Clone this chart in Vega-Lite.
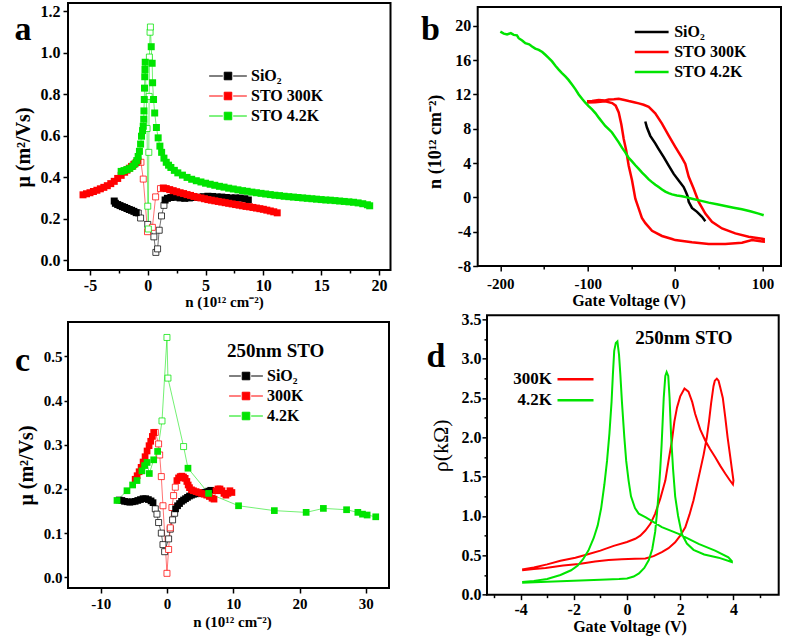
{
"$schema": "https://vega.github.io/schema/vega-lite/v6.json",
"background": "white",
"padding": {"left": 12, "top": 2, "right": 5, "bottom": 5},
"config": {
  "font": "Liberation Serif",
  "view": {"stroke": "#000000", "strokeWidth": 2},
  "axis": {"grid": false, "domain": false, "tickColor": "#000000", "tickWidth": 1.5, "tickSize": 5, "labelOverlap": false, "tickCount": 40,
    "labelFont": "Liberation Serif", "labelFontWeight": "bold", "labelFontSize": 15, "labelColor": "#000000", "labelPadding": 3,
    "titleFont": "Liberation Serif", "titleFontWeight": "bold", "titleColor": "#000000", "titleAlign": "center", "titleBaseline": "middle"},
  "legend": {"labelFont": "Liberation Serif", "labelFontWeight": "bold", "labelColor": "#000000", "padding": 0, "symbolOpacity": 1}
},
"datasets": {
"a": [
{"s":"SiO₂","t":"f","n":-2.9,"mu":0.285},{"s":"SiO₂","t":"f","n":-2.8,"mu":0.274},{"s":"SiO₂","t":"f","n":-2.6,"mu":0.268},{"s":"SiO₂","t":"f","n":-2.4,"mu":0.263},{"s":"SiO₂","t":"f","n":-2.2,"mu":0.258},{"s":"SiO₂","t":"f","n":-2.0,"mu":0.254},{"s":"SiO₂","t":"f","n":-1.8,"mu":0.249},{"s":"SiO₂","t":"f","n":-1.6,"mu":0.244},{"s":"SiO₂","t":"f","n":-1.4,"mu":0.24},{"s":"SiO₂","t":"f","n":-1.2,"mu":0.235},{"s":"SiO₂","t":"f","n":-1.0,"mu":0.229},
{"s":"SiO₂","t":"o","n":-0.82,"mu":0.227},{"s":"SiO₂","t":"o","n":-0.62,"mu":0.203},{"s":"SiO₂","t":"o","n":0.0,"mu":0.172},{"s":"SiO₂","t":"o","n":0.53,"mu":0.112},{"s":"SiO₂","t":"o","n":0.7,"mu":0.037},{"s":"SiO₂","t":"o","n":0.85,"mu":0.054},{"s":"SiO₂","t":"o","n":0.99,"mu":0.144},{"s":"SiO₂","t":"o","n":1.19,"mu":0.213},{"s":"SiO₂","t":"o","n":1.4,"mu":0.264},
{"s":"SiO₂","t":"f","n":1.5,"mu":0.29},{"s":"SiO₂","t":"f","n":1.7,"mu":0.298},{"s":"SiO₂","t":"f","n":2.0,"mu":0.302},{"s":"SiO₂","t":"f","n":2.4,"mu":0.303},{"s":"SiO₂","t":"f","n":2.8,"mu":0.3},{"s":"SiO₂","t":"f","n":3.2,"mu":0.298},{"s":"SiO₂","t":"f","n":3.6,"mu":0.3},{"s":"SiO₂","t":"f","n":4.0,"mu":0.302},{"s":"SiO₂","t":"f","n":4.4,"mu":0.303},{"s":"SiO₂","t":"f","n":4.8,"mu":0.306},{"s":"SiO₂","t":"f","n":5.2,"mu":0.308},{"s":"SiO₂","t":"f","n":5.6,"mu":0.307},{"s":"SiO₂","t":"f","n":6.0,"mu":0.305},{"s":"SiO₂","t":"f","n":6.4,"mu":0.304},{"s":"SiO₂","t":"f","n":6.8,"mu":0.302},{"s":"SiO₂","t":"f","n":7.2,"mu":0.3},{"s":"SiO₂","t":"f","n":7.6,"mu":0.3},{"s":"SiO₂","t":"f","n":8.0,"mu":0.299},{"s":"SiO₂","t":"f","n":8.4,"mu":0.296},{"s":"SiO₂","t":"f","n":8.7,"mu":0.29},
{"s":"STO 300K","t":"f","n":-5.6,"mu":0.315},{"s":"STO 300K","t":"f","n":-5.3,"mu":0.32},{"s":"STO 300K","t":"f","n":-5.0,"mu":0.325},{"s":"STO 300K","t":"f","n":-4.7,"mu":0.331},{"s":"STO 300K","t":"f","n":-4.4,"mu":0.337},{"s":"STO 300K","t":"f","n":-4.1,"mu":0.344},{"s":"STO 300K","t":"f","n":-3.8,"mu":0.351},{"s":"STO 300K","t":"f","n":-3.5,"mu":0.359},{"s":"STO 300K","t":"f","n":-3.2,"mu":0.369},{"s":"STO 300K","t":"f","n":-2.9,"mu":0.38},{"s":"STO 300K","t":"f","n":-2.6,"mu":0.394},{"s":"STO 300K","t":"f","n":-2.3,"mu":0.409},{"s":"STO 300K","t":"f","n":-2.0,"mu":0.424},{"s":"STO 300K","t":"f","n":-1.8,"mu":0.434},{"s":"STO 300K","t":"f","n":-1.6,"mu":0.443},{"s":"STO 300K","t":"f","n":-1.4,"mu":0.452},{"s":"STO 300K","t":"f","n":-1.2,"mu":0.462},{"s":"STO 300K","t":"f","n":-1.0,"mu":0.471},{"s":"STO 300K","t":"f","n":-0.85,"mu":0.478},
{"s":"STO 300K","t":"o","n":-0.59,"mu":0.472},{"s":"STO 300K","t":"o","n":-0.39,"mu":0.391},{"s":"STO 300K","t":"o","n":-0.02,"mu":0.137},{"s":"STO 300K","t":"o","n":0.4,"mu":0.158},{"s":"STO 300K","t":"o","n":0.68,"mu":0.305},{"s":"STO 300K","t":"o","n":1.1,"mu":0.345},
{"s":"STO 300K","t":"f","n":1.35,"mu":0.348},{"s":"STO 300K","t":"f","n":1.6,"mu":0.345},{"s":"STO 300K","t":"f","n":1.9,"mu":0.34},{"s":"STO 300K","t":"f","n":2.2,"mu":0.335},{"s":"STO 300K","t":"f","n":2.5,"mu":0.33},{"s":"STO 300K","t":"f","n":2.8,"mu":0.325},{"s":"STO 300K","t":"f","n":3.1,"mu":0.321},{"s":"STO 300K","t":"f","n":3.4,"mu":0.316},{"s":"STO 300K","t":"f","n":3.7,"mu":0.312},{"s":"STO 300K","t":"f","n":4.0,"mu":0.307},{"s":"STO 300K","t":"f","n":4.3,"mu":0.303},{"s":"STO 300K","t":"f","n":4.6,"mu":0.3},{"s":"STO 300K","t":"f","n":4.9,"mu":0.296},{"s":"STO 300K","t":"f","n":5.2,"mu":0.292},{"s":"STO 300K","t":"f","n":5.5,"mu":0.289},{"s":"STO 300K","t":"f","n":5.8,"mu":0.286},{"s":"STO 300K","t":"f","n":6.1,"mu":0.283},{"s":"STO 300K","t":"f","n":6.4,"mu":0.28},{"s":"STO 300K","t":"f","n":6.7,"mu":0.277},{"s":"STO 300K","t":"f","n":7.0,"mu":0.274},{"s":"STO 300K","t":"f","n":7.3,"mu":0.271},{"s":"STO 300K","t":"f","n":7.6,"mu":0.268},{"s":"STO 300K","t":"f","n":7.9,"mu":0.265},{"s":"STO 300K","t":"f","n":8.2,"mu":0.262},{"s":"STO 300K","t":"f","n":8.5,"mu":0.259},{"s":"STO 300K","t":"f","n":8.8,"mu":0.257},{"s":"STO 300K","t":"f","n":9.1,"mu":0.254},{"s":"STO 300K","t":"f","n":9.4,"mu":0.251},{"s":"STO 300K","t":"f","n":9.7,"mu":0.248},{"s":"STO 300K","t":"f","n":10.0,"mu":0.245},{"s":"STO 300K","t":"f","n":10.3,"mu":0.241},{"s":"STO 300K","t":"f","n":10.6,"mu":0.237},{"s":"STO 300K","t":"f","n":10.9,"mu":0.233},{"s":"STO 300K","t":"f","n":11.2,"mu":0.228},
{"s":"STO 4.2K","t":"f","n":-2.3,"mu":0.428},{"s":"STO 4.2K","t":"f","n":-2.05,"mu":0.432},{"s":"STO 4.2K","t":"f","n":-1.8,"mu":0.437},{"s":"STO 4.2K","t":"f","n":-1.55,"mu":0.443},{"s":"STO 4.2K","t":"f","n":-1.3,"mu":0.453},{"s":"STO 4.2K","t":"f","n":-1.1,"mu":0.465},{"s":"STO 4.2K","t":"f","n":-0.95,"mu":0.48},{"s":"STO 4.2K","t":"f","n":-0.83,"mu":0.5},{"s":"STO 4.2K","t":"f","n":-0.72,"mu":0.525},{"s":"STO 4.2K","t":"f","n":-0.62,"mu":0.56},{"s":"STO 4.2K","t":"f","n":-0.54,"mu":0.598},{"s":"STO 4.2K","t":"f","n":-0.45,"mu":0.625},{"s":"STO 4.2K","t":"f","n":-0.39,"mu":0.646},{"s":"STO 4.2K","t":"f","n":-0.35,"mu":0.68},{"s":"STO 4.2K","t":"f","n":-0.33,"mu":0.72},{"s":"STO 4.2K","t":"f","n":-0.3,"mu":0.775},{"s":"STO 4.2K","t":"f","n":-0.28,"mu":0.83},{"s":"STO 4.2K","t":"f","n":-0.26,"mu":0.885},{"s":"STO 4.2K","t":"f","n":-0.24,"mu":0.92},{"s":"STO 4.2K","t":"f","n":-0.22,"mu":0.955},
{"s":"STO 4.2K","t":"o","n":-0.06,"mu":0.635},{"s":"STO 4.2K","t":"o","n":0.0,"mu":0.26},{"s":"STO 4.2K","t":"o","n":0.05,"mu":0.15},{"s":"STO 4.2K","t":"o","n":0.09,"mu":0.52},{"s":"STO 4.2K","t":"o","n":0.12,"mu":0.79},{"s":"STO 4.2K","t":"o","n":0.14,"mu":0.98},{"s":"STO 4.2K","t":"o","n":0.2,"mu":1.1},{"s":"STO 4.2K","t":"o","n":0.23,"mu":1.125},
{"s":"STO 4.2K","t":"f","n":0.3,"mu":1.03},{"s":"STO 4.2K","t":"f","n":0.38,"mu":0.95},{"s":"STO 4.2K","t":"f","n":0.42,"mu":0.856},{"s":"STO 4.2K","t":"f","n":0.5,"mu":0.775},{"s":"STO 4.2K","t":"f","n":0.6,"mu":0.71},{"s":"STO 4.2K","t":"f","n":0.75,"mu":0.64},{"s":"STO 4.2K","t":"f","n":0.9,"mu":0.59},{"s":"STO 4.2K","t":"f","n":1.05,"mu":0.55},{"s":"STO 4.2K","t":"f","n":1.2,"mu":0.52},{"s":"STO 4.2K","t":"f","n":1.4,"mu":0.492},{"s":"STO 4.2K","t":"f","n":1.6,"mu":0.472},{"s":"STO 4.2K","t":"f","n":1.8,"mu":0.458},{"s":"STO 4.2K","t":"f","n":2.0,"mu":0.447},{"s":"STO 4.2K","t":"f","n":2.3,"mu":0.433},{"s":"STO 4.2K","t":"f","n":2.6,"mu":0.421},{"s":"STO 4.2K","t":"f","n":3.0,"mu":0.41},{"s":"STO 4.2K","t":"f","n":3.4,"mu":0.399},{"s":"STO 4.2K","t":"f","n":3.8,"mu":0.39},{"s":"STO 4.2K","t":"f","n":4.2,"mu":0.383},{"s":"STO 4.2K","t":"f","n":4.6,"mu":0.377},{"s":"STO 4.2K","t":"f","n":5.0,"mu":0.371},{"s":"STO 4.2K","t":"f","n":5.4,"mu":0.366},{"s":"STO 4.2K","t":"f","n":5.8,"mu":0.361},{"s":"STO 4.2K","t":"f","n":6.2,"mu":0.356},{"s":"STO 4.2K","t":"f","n":6.6,"mu":0.352},{"s":"STO 4.2K","t":"f","n":7.0,"mu":0.347},{"s":"STO 4.2K","t":"f","n":7.4,"mu":0.343},{"s":"STO 4.2K","t":"f","n":7.8,"mu":0.339},{"s":"STO 4.2K","t":"f","n":8.2,"mu":0.335},{"s":"STO 4.2K","t":"f","n":8.6,"mu":0.332},{"s":"STO 4.2K","t":"f","n":9.0,"mu":0.328},{"s":"STO 4.2K","t":"f","n":9.4,"mu":0.325},{"s":"STO 4.2K","t":"f","n":9.8,"mu":0.322},{"s":"STO 4.2K","t":"f","n":10.2,"mu":0.319},{"s":"STO 4.2K","t":"f","n":10.6,"mu":0.316},{"s":"STO 4.2K","t":"f","n":11.0,"mu":0.313},{"s":"STO 4.2K","t":"f","n":11.4,"mu":0.311},{"s":"STO 4.2K","t":"f","n":11.8,"mu":0.308},{"s":"STO 4.2K","t":"f","n":12.2,"mu":0.306},{"s":"STO 4.2K","t":"f","n":12.6,"mu":0.304},{"s":"STO 4.2K","t":"f","n":13.0,"mu":0.302},{"s":"STO 4.2K","t":"f","n":13.4,"mu":0.3},{"s":"STO 4.2K","t":"f","n":13.8,"mu":0.298},{"s":"STO 4.2K","t":"f","n":14.2,"mu":0.296},{"s":"STO 4.2K","t":"f","n":14.6,"mu":0.294},{"s":"STO 4.2K","t":"f","n":15.0,"mu":0.292},{"s":"STO 4.2K","t":"f","n":15.4,"mu":0.29},{"s":"STO 4.2K","t":"f","n":15.8,"mu":0.289},{"s":"STO 4.2K","t":"f","n":16.2,"mu":0.287},{"s":"STO 4.2K","t":"f","n":16.6,"mu":0.285},{"s":"STO 4.2K","t":"f","n":17.0,"mu":0.283},{"s":"STO 4.2K","t":"f","n":17.4,"mu":0.281},{"s":"STO 4.2K","t":"f","n":17.8,"mu":0.279},{"s":"STO 4.2K","t":"f","n":18.2,"mu":0.276},{"s":"STO 4.2K","t":"f","n":18.6,"mu":0.272},{"s":"STO 4.2K","t":"f","n":19.0,"mu":0.267},{"s":"STO 4.2K","t":"f","n":19.2,"mu":0.262}
],
"b": [
{"s":"SiO₂","v":-34.1,"n":8.85},{"s":"SiO₂","v":-32.2,"n":8.15},{"s":"SiO₂","v":-28.4,"n":7.18},{"s":"SiO₂","v":-22.7,"n":6.3},{"s":"SiO₂","v":-18.8,"n":5.64},{"s":"SiO₂","v":-13,"n":4.7},{"s":"SiO₂","v":-7.3,"n":3.7},{"s":"SiO₂","v":-1.6,"n":2.74},{"s":"SiO₂","v":4.1,"n":1.97},{"s":"SiO₂","v":9.8,"n":1.2},{"s":"SiO₂","v":12.5,"n":0.6},{"s":"SiO₂","v":14.5,"n":0.1},{"s":"SiO₂","v":15.6,"n":-0.53},{"s":"SiO₂","v":19.3,"n":-1.23},{"s":"SiO₂","v":25.1,"n":-1.69},{"s":"SiO₂","v":30.8,"n":-2.27},{"s":"SiO₂","v":34.6,"n":-2.78},
{"s":"STO 300K","v":-100.8,"n":11.2},{"s":"STO 300K","v":-95,"n":11.23},{"s":"STO 300K","v":-87.4,"n":11.35},{"s":"STO 300K","v":-80,"n":11.3},{"s":"STO 300K","v":-76,"n":11.42},{"s":"STO 300K","v":-70,"n":11.45},{"s":"STO 300K","v":-64.5,"n":11.5},{"s":"STO 300K","v":-58,"n":11.35},{"s":"STO 300K","v":-53.1,"n":11.23},{"s":"STO 300K","v":-47,"n":11.1},{"s":"STO 300K","v":-41.6,"n":10.96},{"s":"STO 300K","v":-36,"n":10.8},{"s":"STO 300K","v":-30.2,"n":10.55},{"s":"STO 300K","v":-22.7,"n":9.8},{"s":"STO 300K","v":-15,"n":8.6},{"s":"STO 300K","v":-7.3,"n":7.2},{"s":"STO 300K","v":0.2,"n":5.9},{"s":"STO 300K","v":7.9,"n":4.6},{"s":"STO 300K","v":11.7,"n":3.9},{"s":"STO 300K","v":15.6,"n":2.4},{"s":"STO 300K","v":21.3,"n":1.0},{"s":"STO 300K","v":27,"n":-0.53},{"s":"STO 300K","v":34.6,"n":-1.89},{"s":"STO 300K","v":42.2,"n":-2.85},{"s":"STO 300K","v":53.7,"n":-3.62},{"s":"STO 300K","v":68.9,"n":-4.2},{"s":"STO 300K","v":84.2,"n":-4.59},{"s":"STO 300K","v":101.4,"n":-4.86},
{"s":"STO 300K","v":101.4,"n":-5.16},{"s":"STO 300K","v":88,"n":-4.98},{"s":"STO 300K","v":76.5,"n":-5.28},{"s":"STO 300K","v":57.4,"n":-5.44},{"s":"STO 300K","v":38.4,"n":-5.44},{"s":"STO 300K","v":19.3,"n":-5.24},{"s":"STO 300K","v":0.2,"n":-4.98},{"s":"STO 300K","v":-3.5,"n":-4.85},{"s":"STO 300K","v":-15,"n":-4.5},{"s":"STO 300K","v":-26.4,"n":-3.9},{"s":"STO 300K","v":-34,"n":-3.0},{"s":"STO 300K","v":-38,"n":-2.4},{"s":"STO 300K","v":-42,"n":-1.2},{"s":"STO 300K","v":-45.5,"n":-0.15},{"s":"STO 300K","v":-49.3,"n":2.0},{"s":"STO 300K","v":-53.1,"n":3.7},{"s":"STO 300K","v":-56,"n":5.5},{"s":"STO 300K","v":-58.8,"n":6.8},{"s":"STO 300K","v":-61.5,"n":8.5},{"s":"STO 300K","v":-64.5,"n":9.9},{"s":"STO 300K","v":-68,"n":10.7},{"s":"STO 300K","v":-72,"n":11.0},{"s":"STO 300K","v":-79.9,"n":11.2},{"s":"STO 300K","v":-91.3,"n":11.1},{"s":"STO 300K","v":-100.8,"n":11.05},
{"s":"STO 4.2K","v":-200,"n":19.33},{"s":"STO 4.2K","v":-196,"n":19.1},{"s":"STO 4.2K","v":-192.3,"n":19.0},{"s":"STO 4.2K","v":-188,"n":19.15},{"s":"STO 4.2K","v":-184.7,"n":18.95},{"s":"STO 4.2K","v":-181,"n":18.9},{"s":"STO 4.2K","v":-179,"n":18.56},{"s":"STO 4.2K","v":-175,"n":18.3},{"s":"STO 4.2K","v":-171.4,"n":17.98},{"s":"STO 4.2K","v":-167,"n":17.85},{"s":"STO 4.2K","v":-163.7,"n":17.6},{"s":"STO 4.2K","v":-160,"n":17.35},{"s":"STO 4.2K","v":-156,"n":17.2},{"s":"STO 4.2K","v":-152,"n":16.95},{"s":"STO 4.2K","v":-148.5,"n":16.63},{"s":"STO 4.2K","v":-144.5,"n":16.25},{"s":"STO 4.2K","v":-140.8,"n":15.86},{"s":"STO 4.2K","v":-137,"n":15.35},{"s":"STO 4.2K","v":-133.2,"n":14.9},{"s":"STO 4.2K","v":-129.5,"n":14.5},{"s":"STO 4.2K","v":-125.6,"n":14.1},{"s":"STO 4.2K","v":-122,"n":13.7},{"s":"STO 4.2K","v":-118,"n":13.16},{"s":"STO 4.2K","v":-114,"n":12.6},{"s":"STO 4.2K","v":-110.3,"n":12.0},{"s":"STO 4.2K","v":-106.5,"n":11.5},{"s":"STO 4.2K","v":-102.7,"n":11.04},{"s":"STO 4.2K","v":-99,"n":10.65},{"s":"STO 4.2K","v":-95,"n":10.27},{"s":"STO 4.2K","v":-91,"n":9.8},{"s":"STO 4.2K","v":-87.4,"n":9.3},{"s":"STO 4.2K","v":-83.5,"n":8.8},{"s":"STO 4.2K","v":-79.9,"n":8.33},{"s":"STO 4.2K","v":-76,"n":7.95},{"s":"STO 4.2K","v":-72.2,"n":7.57},{"s":"STO 4.2K","v":-68.4,"n":7.0},{"s":"STO 4.2K","v":-64.5,"n":6.41},{"s":"STO 4.2K","v":-60.8,"n":5.8},{"s":"STO 4.2K","v":-57,"n":5.25},{"s":"STO 4.2K","v":-53.1,"n":4.6},{"s":"STO 4.2K","v":-49.3,"n":4.2},{"s":"STO 4.2K","v":-45.5,"n":3.75},{"s":"STO 4.2K","v":-41.6,"n":3.32},{"s":"STO 4.2K","v":-37.8,"n":2.88},{"s":"STO 4.2K","v":-34,"n":2.5},{"s":"STO 4.2K","v":-30.2,"n":2.1},{"s":"STO 4.2K","v":-26.4,"n":1.78},{"s":"STO 4.2K","v":-22.6,"n":1.48},{"s":"STO 4.2K","v":-18.8,"n":1.2},{"s":"STO 4.2K","v":-15,"n":0.93},{"s":"STO 4.2K","v":-11.2,"n":0.67},{"s":"STO 4.2K","v":-7.4,"n":0.5},{"s":"STO 4.2K","v":-3.5,"n":0.35},{"s":"STO 4.2K","v":2,"n":0.22},{"s":"STO 4.2K","v":7.9,"n":0.13},{"s":"STO 4.2K","v":13.6,"n":0.0},{"s":"STO 4.2K","v":19.3,"n":-0.15},{"s":"STO 4.2K","v":28.8,"n":-0.38},{"s":"STO 4.2K","v":38.4,"n":-0.61},{"s":"STO 4.2K","v":47.9,"n":-0.8},{"s":"STO 4.2K","v":57.4,"n":-1.0},{"s":"STO 4.2K","v":67,"n":-1.2},{"s":"STO 4.2K","v":76.5,"n":-1.39},{"s":"STO 4.2K","v":86,"n":-1.62},{"s":"STO 4.2K","v":95.6,"n":-1.89},{"s":"STO 4.2K","v":101.4,"n":-2.08}
],
"c": [
{"s":"SiO₂","t":"f","n":-7.2,"mu":0.175},{"s":"SiO₂","t":"f","n":-6.8,"mu":0.174},{"s":"SiO₂","t":"f","n":-6.4,"mu":0.172},{"s":"SiO₂","t":"f","n":-6.0,"mu":0.171},{"s":"SiO₂","t":"f","n":-5.6,"mu":0.17},{"s":"SiO₂","t":"f","n":-5.2,"mu":0.171},{"s":"SiO₂","t":"f","n":-4.8,"mu":0.172},{"s":"SiO₂","t":"f","n":-4.4,"mu":0.174},{"s":"SiO₂","t":"f","n":-4.0,"mu":0.176},{"s":"SiO₂","t":"f","n":-3.6,"mu":0.178},{"s":"SiO₂","t":"f","n":-3.2,"mu":0.178},{"s":"SiO₂","t":"f","n":-2.8,"mu":0.176},{"s":"SiO₂","t":"f","n":-2.4,"mu":0.173},{"s":"SiO₂","t":"f","n":-2.1,"mu":0.169},
{"s":"SiO₂","t":"o","n":-1.76,"mu":0.155},{"s":"SiO₂","t":"o","n":-1.51,"mu":0.143},{"s":"SiO₂","t":"o","n":-1.26,"mu":0.124},{"s":"SiO₂","t":"o","n":-0.85,"mu":0.1},{"s":"SiO₂","t":"o","n":-0.6,"mu":0.074},{"s":"SiO₂","t":"o","n":-0.35,"mu":0.058},{"s":"SiO₂","t":"o","n":0.25,"mu":0.087},{"s":"SiO₂","t":"o","n":0.5,"mu":0.109},{"s":"SiO₂","t":"o","n":0.85,"mu":0.13},{"s":"SiO₂","t":"o","n":1.16,"mu":0.145},
{"s":"SiO₂","t":"f","n":1.3,"mu":0.155},{"s":"SiO₂","t":"f","n":1.6,"mu":0.162},{"s":"SiO₂","t":"f","n":1.9,"mu":0.167},{"s":"SiO₂","t":"f","n":2.2,"mu":0.172},{"s":"SiO₂","t":"f","n":2.5,"mu":0.175},{"s":"SiO₂","t":"f","n":2.8,"mu":0.178},{"s":"SiO₂","t":"f","n":3.1,"mu":0.181},{"s":"SiO₂","t":"f","n":3.4,"mu":0.184},{"s":"SiO₂","t":"f","n":3.7,"mu":0.186},{"s":"SiO₂","t":"f","n":4.0,"mu":0.188},{"s":"SiO₂","t":"f","n":4.4,"mu":0.189},{"s":"SiO₂","t":"f","n":4.8,"mu":0.19},{"s":"SiO₂","t":"f","n":5.2,"mu":0.191},{"s":"SiO₂","t":"f","n":5.6,"mu":0.192},{"s":"SiO₂","t":"f","n":6.0,"mu":0.193},{"s":"SiO₂","t":"f","n":6.3,"mu":0.195},{"s":"SiO₂","t":"f","n":6.6,"mu":0.197},
{"s":"300K","t":"f","n":-4.8,"mu":0.222},{"s":"300K","t":"f","n":-4.5,"mu":0.23},{"s":"300K","t":"f","n":-4.2,"mu":0.239},{"s":"300K","t":"f","n":-3.9,"mu":0.249},{"s":"300K","t":"f","n":-3.6,"mu":0.261},{"s":"300K","t":"f","n":-3.3,"mu":0.273},{"s":"300K","t":"f","n":-3.0,"mu":0.286},{"s":"300K","t":"f","n":-2.7,"mu":0.298},{"s":"300K","t":"f","n":-2.45,"mu":0.308},{"s":"300K","t":"f","n":-2.2,"mu":0.319},{"s":"300K","t":"f","n":-2.0,"mu":0.328},
{"s":"300K","t":"o","n":-1.76,"mu":0.328},{"s":"300K","t":"o","n":-1.26,"mu":0.302},{"s":"300K","t":"o","n":-1.1,"mu":0.277},{"s":"300K","t":"o","n":-0.85,"mu":0.228},{"s":"300K","t":"o","n":-0.6,"mu":0.162},{"s":"300K","t":"o","n":0.0,"mu":0.009},{"s":"300K","t":"o","n":0.25,"mu":0.063},{"s":"300K","t":"o","n":0.5,"mu":0.112},{"s":"300K","t":"o","n":0.75,"mu":0.158},{"s":"300K","t":"o","n":1.0,"mu":0.185},{"s":"300K","t":"o","n":1.26,"mu":0.204},
{"s":"300K","t":"f","n":1.5,"mu":0.219},{"s":"300K","t":"f","n":1.75,"mu":0.225},{"s":"300K","t":"f","n":2.0,"mu":0.228},{"s":"300K","t":"f","n":2.25,"mu":0.229},{"s":"300K","t":"f","n":2.5,"mu":0.227},{"s":"300K","t":"f","n":2.75,"mu":0.224},{"s":"300K","t":"f","n":3.0,"mu":0.217},{"s":"300K","t":"f","n":3.2,"mu":0.209},{"s":"300K","t":"f","n":3.4,"mu":0.203},{"s":"300K","t":"f","n":3.7,"mu":0.198},{"s":"300K","t":"f","n":4.0,"mu":0.196},{"s":"300K","t":"f","n":4.4,"mu":0.194},{"s":"300K","t":"f","n":4.8,"mu":0.192},{"s":"300K","t":"f","n":5.2,"mu":0.19},{"s":"300K","t":"f","n":5.6,"mu":0.188},{"s":"300K","t":"f","n":6.0,"mu":0.186},{"s":"300K","t":"f","n":6.4,"mu":0.183},{"s":"300K","t":"f","n":6.8,"mu":0.179},{"s":"300K","t":"f","n":7.1,"mu":0.177},{"s":"300K","t":"f","n":7.4,"mu":0.196},{"s":"300K","t":"f","n":7.7,"mu":0.2},{"s":"300K","t":"f","n":8.0,"mu":0.2},{"s":"300K","t":"f","n":8.3,"mu":0.196},{"s":"300K","t":"f","n":8.6,"mu":0.19},{"s":"300K","t":"f","n":8.9,"mu":0.186},{"s":"300K","t":"f","n":9.2,"mu":0.19},{"s":"300K","t":"f","n":9.5,"mu":0.196},{"s":"300K","t":"f","n":9.8,"mu":0.192},
{"s":"4.2K","t":"f","n":-7.54,"mu":0.174},{"s":"4.2K","t":"f","n":-6.03,"mu":0.196},{"s":"4.2K","t":"f","n":-5.18,"mu":0.209},{"s":"4.2K","t":"f","n":-4.52,"mu":0.219},{"s":"4.2K","t":"f","n":-3.77,"mu":0.241},{"s":"4.2K","t":"f","n":-3.37,"mu":0.253},{"s":"4.2K","t":"f","n":-3.0,"mu":0.26},{"s":"4.2K","t":"f","n":-2.66,"mu":0.235},{"s":"4.2K","t":"f","n":-2.0,"mu":0.266},{"s":"4.2K","t":"f","n":-1.41,"mu":0.285},
{"s":"4.2K","t":"o","n":-0.75,"mu":0.354},{"s":"4.2K","t":"o","n":0.0,"mu":0.543},{"s":"4.2K","t":"o","n":0.15,"mu":0.451},{"s":"4.2K","t":"o","n":2.51,"mu":0.296},
{"s":"4.2K","t":"f","n":3.17,"mu":0.247},{"s":"4.2K","t":"f","n":6.28,"mu":0.19},{"s":"4.2K","t":"f","n":10.8,"mu":0.162},{"s":"4.2K","t":"f","n":16.2,"mu":0.151},{"s":"4.2K","t":"f","n":21.0,"mu":0.147},{"s":"4.2K","t":"f","n":23.6,"mu":0.156},{"s":"4.2K","t":"f","n":27.1,"mu":0.153},{"s":"4.2K","t":"f","n":28.8,"mu":0.147},{"s":"4.2K","t":"f","n":29.5,"mu":0.143},{"s":"4.2K","t":"f","n":30.2,"mu":0.141},{"s":"4.2K","t":"f","n":31.5,"mu":0.137}
],
"d": [
{"s":"300K","v":-3.94,"r":0.32},{"s":"300K","v":-3.5,"r":0.345},{"s":"300K","v":-3.0,"r":0.385},{"s":"300K","v":-2.5,"r":0.43},{"s":"300K","v":-1.94,"r":0.47},{"s":"300K","v":-1.5,"r":0.51},{"s":"300K","v":-1.0,"r":0.56},{"s":"300K","v":-0.5,"r":0.62},{"s":"300K","v":0.0,"r":0.67},{"s":"300K","v":0.31,"r":0.71},{"s":"300K","v":0.5,"r":0.75},{"s":"300K","v":0.69,"r":0.815},{"s":"300K","v":0.88,"r":0.9},{"s":"300K","v":1.06,"r":1.03},{"s":"300K","v":1.25,"r":1.22},{"s":"300K","v":1.44,"r":1.45},{"s":"300K","v":1.56,"r":1.7},{"s":"300K","v":1.69,"r":1.96},{"s":"300K","v":1.78,"r":2.2},{"s":"300K","v":1.88,"r":2.38},{"s":"300K","v":2.0,"r":2.52},{"s":"300K","v":2.16,"r":2.62},{"s":"300K","v":2.31,"r":2.58},{"s":"300K","v":2.45,"r":2.45},{"s":"300K","v":2.56,"r":2.3},{"s":"300K","v":2.75,"r":2.1},{"s":"300K","v":2.94,"r":1.96},{"s":"300K","v":3.12,"r":1.85},{"s":"300K","v":3.31,"r":1.75},{"s":"300K","v":3.5,"r":1.64},{"s":"300K","v":3.69,"r":1.54},{"s":"300K","v":3.85,"r":1.46},{"s":"300K","v":3.98,"r":1.4},
{"s":"300K","v":4.0,"r":1.45},{"s":"300K","v":3.94,"r":1.6},{"s":"300K","v":3.88,"r":1.75},{"s":"300K","v":3.78,"r":2.0},{"s":"300K","v":3.69,"r":2.26},{"s":"300K","v":3.6,"r":2.5},{"s":"300K","v":3.5,"r":2.64},{"s":"300K","v":3.44,"r":2.72},{"s":"300K","v":3.375,"r":2.745},{"s":"300K","v":3.3,"r":2.72},{"s":"300K","v":3.25,"r":2.65},{"s":"300K","v":3.16,"r":2.43},{"s":"300K","v":3.08,"r":2.2},{"s":"300K","v":3.0,"r":2.0},{"s":"300K","v":2.88,"r":1.78},{"s":"300K","v":2.75,"r":1.58},{"s":"300K","v":2.62,"r":1.38},{"s":"300K","v":2.5,"r":1.2},{"s":"300K","v":2.35,"r":1.02},{"s":"300K","v":2.19,"r":0.857},{"s":"300K","v":2.0,"r":0.75},{"s":"300K","v":1.81,"r":0.666},{"s":"300K","v":1.56,"r":0.59},{"s":"300K","v":1.31,"r":0.54},{"s":"300K","v":1.0,"r":0.49},{"s":"300K","v":0.69,"r":0.46},{"s":"300K","v":0.3,"r":0.455},{"s":"300K","v":-0.2,"r":0.45},{"s":"300K","v":-0.69,"r":0.44},{"s":"300K","v":-1.2,"r":0.42},{"s":"300K","v":-1.81,"r":0.39},{"s":"300K","v":-2.4,"r":0.37},{"s":"300K","v":-3.06,"r":0.34},{"s":"300K","v":-3.5,"r":0.325},{"s":"300K","v":-3.94,"r":0.31},
{"s":"4.2K","v":-3.94,"r":0.15},{"s":"4.2K","v":-3.0,"r":0.165},{"s":"4.2K","v":-2.0,"r":0.178},{"s":"4.2K","v":-1.0,"r":0.19},{"s":"4.2K","v":-0.3,"r":0.198},{"s":"4.2K","v":0.0,"r":0.205},{"s":"4.2K","v":0.25,"r":0.23},{"s":"4.2K","v":0.45,"r":0.27},{"s":"4.2K","v":0.65,"r":0.34},{"s":"4.2K","v":0.82,"r":0.44},{"s":"4.2K","v":0.95,"r":0.58},{"s":"4.2K","v":1.06,"r":0.8},{"s":"4.2K","v":1.13,"r":1.05},{"s":"4.2K","v":1.19,"r":1.3},{"s":"4.2K","v":1.25,"r":1.6},{"s":"4.2K","v":1.3,"r":1.9},{"s":"4.2K","v":1.34,"r":2.2},{"s":"4.2K","v":1.38,"r":2.5},{"s":"4.2K","v":1.44,"r":2.78},{"s":"4.2K","v":1.49,"r":2.83},{"s":"4.2K","v":1.55,"r":2.78},{"s":"4.2K","v":1.6,"r":2.5},{"s":"4.2K","v":1.63,"r":2.25},{"s":"4.2K","v":1.66,"r":2.0},{"s":"4.2K","v":1.73,"r":1.6},{"s":"4.2K","v":1.81,"r":1.25},{"s":"4.2K","v":1.92,"r":1.0},{"s":"4.2K","v":2.06,"r":0.77},{"s":"4.2K","v":2.25,"r":0.65},{"s":"4.2K","v":2.5,"r":0.57},{"s":"4.2K","v":2.9,"r":0.51},{"s":"4.2K","v":3.44,"r":0.47},{"s":"4.2K","v":3.94,"r":0.415},
{"s":"4.2K","v":3.94,"r":0.425},{"s":"4.2K","v":3.81,"r":0.475},{"s":"4.2K","v":3.31,"r":0.56},{"s":"4.2K","v":2.69,"r":0.645},{"s":"4.2K","v":1.94,"r":0.772},{"s":"4.2K","v":1.31,"r":0.857},{"s":"4.2K","v":0.69,"r":0.984},{"s":"4.2K","v":0.44,"r":1.03},{"s":"4.2K","v":0.3,"r":1.1},{"s":"4.2K","v":0.15,"r":1.25},{"s":"4.2K","v":0.06,"r":1.45},{"s":"4.2K","v":-0.03,"r":1.7},{"s":"4.2K","v":-0.1,"r":2.0},{"s":"4.2K","v":-0.19,"r":2.45},{"s":"4.2K","v":-0.25,"r":2.8},{"s":"4.2K","v":-0.3,"r":3.05},{"s":"4.2K","v":-0.36,"r":3.22},{"s":"4.2K","v":-0.42,"r":3.2},{"s":"4.2K","v":-0.48,"r":3.1},{"s":"4.2K","v":-0.53,"r":2.8},{"s":"4.2K","v":-0.58,"r":2.45},{"s":"4.2K","v":-0.66,"r":2.05},{"s":"4.2K","v":-0.75,"r":1.7},{"s":"4.2K","v":-0.85,"r":1.4},{"s":"4.2K","v":-0.97,"r":1.1},{"s":"4.2K","v":-1.1,"r":0.88},{"s":"4.2K","v":-1.25,"r":0.72},{"s":"4.2K","v":-1.45,"r":0.56},{"s":"4.2K","v":-1.65,"r":0.45},{"s":"4.2K","v":-1.85,"r":0.37},{"s":"4.2K","v":-2.1,"r":0.31},{"s":"4.2K","v":-2.5,"r":0.25},{"s":"4.2K","v":-3.0,"r":0.2},{"s":"4.2K","v":-3.5,"r":0.175},{"s":"4.2K","v":-3.94,"r":0.16}
]
},
"bounds": "full",
"spacing": -1,
"resolve": {"scale": {"color": "independent"}, "legend": {"color": "independent"}},
"vconcat": [
{
"hconcat": [
{
"width": 322.5, "height": 267,
"data": {"name": "a"},
"layer": [
{"mark": {"type": "line", "strokeWidth": 1, "opacity": 0.55},
 "encoding": {
  "x": {"field": "n", "type": "quantitative", "scale": {"domain": [-6.9, 21.0], "nice": false, "zero": false},
        "axis": {"values": [-5,-2.5,0,2.5,5,7.5,10,12.5,15,17.5,20], "tickCount": 40, "labelExpr": "abs(datum.value % 5) < 0.01 ? '' + datum.value : ''", "labelOverlap": false, "labelFontSize": 16, "labelPadding": 2,
                 "tickSize": {"condition": {"test": "abs(datum.value % 5) > 0.01", "value": 3}, "value": 5},
                 "title": "n (10¹² cm⁻²)", "titleFontSize": 15, "titleX": 156, "titleY": 31.5}},
  "y": {"field": "mu", "type": "quantitative", "scale": {"domain": [-0.048, 1.241], "nice": false, "zero": false},
        "axis": {"values": [0,0.2,0.4,0.6,0.8,1.0,1.2], "tickCount": 40, "format": ".1f", "labelOverlap": false, "labelFontSize": 16, "title": "μ (m²/Vs)", "titleFontSize": 20, "titleX": -44.5, "titleY": 144}},
  "color": {"field": "s", "type": "nominal", "scale": {"domain": ["SiO₂","STO 300K","STO 4.2K"], "range": ["#000000","#ff0000","#00e400"]},
        "legend": {"orient": "none", "legendX": 152, "legendY": 65, "title": null, "labelFontSize": 16, "rowPadding": 4,
                   "symbolType": "M-2.9,0H-0.8M0.8,0H2.9M-0.58,-0.58H0.58V0.58H-0.58Z", "symbolSize": 169, "symbolStrokeWidth": 1, "labelOffset": 15,
                   "encode": {"symbols": {"update": {"fill": {"signal": "datum.value === 'SiO₂' ? '#000000' : datum.value === 'STO 300K' ? '#ff0000' : '#00e400'"}, "stroke": {"signal": "datum.value === 'SiO₂' ? '#000000' : datum.value === 'STO 300K' ? '#ff0000' : '#00e400'"}, "opacity": {"value": 1}}}}}},
  "order": {"value": null}
 }},
{"transform": [{"filter": "datum.t === 'o'"}],
 "mark": {"type": "square", "filled": false, "fill": "white", "size": 36, "strokeWidth": 1, "opacity": 1, "strokeOpacity": 0.75},
 "encoding": {"x": {"field": "n", "type": "quantitative"}, "y": {"field": "mu", "type": "quantitative"}, "color": {"field": "s", "type": "nominal"}}},
{"transform": [{"filter": "datum.t === 'f'"}],
 "mark": {"type": "square", "filled": true, "size": 49, "opacity": 1},
 "encoding": {"x": {"field": "n", "type": "quantitative"}, "y": {"field": "mu", "type": "quantitative"}, "color": {"field": "s", "type": "nominal"}}},
{"data": {"values": [{}]},
 "mark": {"type": "text", "text": "a", "fontSize": 34, "fontWeight": "bold", "font": "Liberation Serif", "align": "center", "baseline": "alphabetic", "color": "#000000"},
 "encoding": {"x": {"datum": -10.8}, "y": {"datum": 1.062}}}
]
},
{
"width": 303.3, "height": 259,
"data": {"name": "b"},
"layer": [
{"mark": {"type": "line", "strokeWidth": 2.5, "opacity": 1},
 "encoding": {
  "x": {"field": "v", "type": "quantitative", "scale": {"domain": [-225.9, 121.2], "nice": false, "zero": false},
        "axis": {"values": [-200,-150,-100,-50,0,50,100], "tickCount": 40, "labelExpr": "datum.value % 100 === 0 ? '' + datum.value : ''", "labelOverlap": false,
                 "tickSize": {"condition": {"test": "datum.value % 100 !== 0", "value": 3}, "value": 5}, "labelPadding": 5,
                 "title": "Gate Voltage (V)", "titleFontSize": 16, "titleX": 150.8, "titleY": 34.3}},
  "y": {"field": "n", "type": "quantitative", "scale": {"domain": [-8, 22.2], "nice": false, "zero": false},
        "axis": {"values": [-8,-4,0,4,8,12,16,20], "tickCount": 40, "labelExpr": "'' + datum.value", "labelOverlap": false, "labelPadding": 2, "labelFontSize": 16,
                 "title": "n (10¹² cm⁻²)", "titleFontSize": 18, "titleX": -42.2, "titleY": 134.3}},
  "color": {"field": "s", "type": "nominal", "scale": {"domain": ["SiO₂","STO 300K","STO 4.2K"], "range": ["#000000","#ff0000","#00e400"]},
        "legend": {"orient": "none", "legendX": 166, "legendY": 17, "title": null, "labelFontSize": 16, "rowPadding": 4,
                   "symbolType": "M-2.6,0H2.6", "symbolSize": 169, "symbolStrokeWidth": 2.5, "labelOffset": 14.5}},
  "order": {"value": null}
 }},
{"data": {"values": [{}]},
 "mark": {"type": "text", "text": "b", "fontSize": 34, "fontWeight": "bold", "font": "Liberation Serif", "align": "center", "baseline": "alphabetic", "color": "#000000"},
 "encoding": {"x": {"datum": -279.9}, "y": {"datum": 18.37}}}
]
}
],
"bounds": "flush", "center": true, "spacing": 86.7,
"resolve": {"scale": {"color": "independent"}, "legend": {"color": "independent"}}
},
{
"hconcat": [
{
"width": 321, "height": 266,
"data": {"name": "c"},
"layer": [
{"mark": {"type": "line", "strokeWidth": 1, "opacity": 0.55},
 "encoding": {
  "x": {"field": "n", "type": "quantitative", "scale": {"domain": [-14.93, 33.5], "nice": false, "zero": false},
        "axis": {"values": [-10,0,10,20,30], "tickCount": 40, "labelExpr": "'' + datum.value", "labelOverlap": false, "labelPadding": 3,
                 "title": "n (10¹² cm⁻²)", "titleFontSize": 15, "titleX": 164, "titleY": 33}},
  "y": {"field": "mu", "type": "quantitative", "scale": {"domain": [-0.0242, 0.578], "nice": false, "zero": false},
        "axis": {"values": [0,0.1,0.2,0.3,0.4,0.5], "tickCount": 40, "format": ".1f", "labelOverlap": false, "labelPadding": 2, "tickSize": 4, "title": "μ (m²/Vs)", "titleFontSize": 20, "titleX": -42, "titleY": 143}},
  "color": {"field": "s", "type": "nominal", "scale": {"domain": ["SiO₂","300K","4.2K"], "range": ["#000000","#ff0000","#00e400"]},
        "legend": {"orient": "none", "legendX": 170, "legendY": 46, "title": null, "labelFontSize": 16, "rowPadding": 4,
                   "symbolType": "M-2.6,0H-0.8M0.8,0H2.6M-0.58,-0.58H0.58V0.58H-0.58Z", "symbolSize": 169, "symbolStrokeWidth": 1, "labelOffset": 13,
                   "encode": {"symbols": {"update": {"fill": {"signal": "datum.value === 'SiO₂' ? '#000000' : datum.value === '300K' ? '#ff0000' : '#00e400'"}, "stroke": {"signal": "datum.value === 'SiO₂' ? '#000000' : datum.value === '300K' ? '#ff0000' : '#00e400'"}, "opacity": {"value": 1}}}}}},
  "order": {"value": null}
 }},
{"transform": [{"filter": "datum.t === 'o'"}],
 "mark": {"type": "square", "filled": false, "fill": "white", "size": 36, "strokeWidth": 1, "opacity": 1, "strokeOpacity": 0.75},
 "encoding": {"x": {"field": "n", "type": "quantitative"}, "y": {"field": "mu", "type": "quantitative"}, "color": {"field": "s", "type": "nominal"}}},
{"transform": [{"filter": "datum.t === 'f'"}],
 "mark": {"type": "square", "filled": true, "size": 45, "opacity": 1},
 "encoding": {"x": {"field": "n", "type": "quantitative"}, "y": {"field": "mu", "type": "quantitative"}, "color": {"field": "s", "type": "nominal"}}},
{"data": {"values": [{}]},
 "mark": {"type": "text", "text": "c", "fontSize": 34, "fontWeight": "bold", "font": "Liberation Serif", "align": "center", "baseline": "alphabetic", "color": "#000000"},
 "encoding": {"x": {"datum": -21.8}, "y": {"datum": 0.468}}},
{"data": {"values": [{}]},
 "mark": {"type": "text", "text": "250nm STO", "fontSize": 19, "fontWeight": "bold", "font": "Liberation Serif", "align": "center", "baseline": "alphabetic", "color": "#000000"},
 "encoding": {"x": {"datum": 16.4}, "y": {"datum": 0.498}}}
]
},
{
"width": 291.7, "height": 279.3,
"data": {"name": "d"},
"layer": [
{"mark": {"type": "line", "strokeWidth": 2, "opacity": 1},
 "encoding": {
  "x": {"field": "v", "type": "quantitative", "scale": {"domain": [-5.26, 5.7], "nice": false, "zero": false},
        "axis": {"values": [-5,-4,-3,-2,-1,0,1,2,3,4,5], "tickCount": 40, "labelExpr": "abs(datum.value % 2) < 0.01 ? '' + datum.value : ''", "labelOverlap": false,
                 "tickSize": {"condition": {"test": "abs(datum.value % 2) > 0.01", "value": 3}, "value": 5}, "labelFontSize": 16, "labelPadding": 2,
                 "title": "Gate Voltage (V)", "titleFontSize": 16, "titleX": 142.5, "titleY": 32}},
  "y": {"field": "r", "type": "quantitative", "scale": {"domain": [0, 3.55], "nice": false, "zero": false},
        "axis": {"values": [0,0.25,0.5,0.75,1,1.25,1.5,1.75,2,2.25,2.5,2.75,3,3.25,3.5], "tickCount": 40, "labelExpr": "abs(datum.value % 0.5) < 0.01 ? format(datum.value, '.1f') : ''", "labelOverlap": false,
                 "tickSize": {"condition": {"test": "abs(datum.value % 0.5) > 0.01", "value": 3}, "value": 5}, "labelFontSize": 16, "labelPadding": 1,
                 "title": "ρ(kΩ)", "titleFontSize": 22, "titleFontWeight": "normal", "titleX": -46.5, "titleY": 130}},
  "color": {"field": "s", "type": "nominal", "scale": {"domain": ["300K","4.2K"], "range": ["#ff0000","#00e400"]},
        "legend": {"orient": "none", "legendX": 80, "legendY": 55.5, "title": null, "labelFontSize": 17, "rowPadding": 3,
                   "symbolType": "M-2.77,0H2.77", "symbolSize": 169, "symbolStrokeWidth": 2.5, "labelAlign": "right", "labelOffset": -32}},
  "order": {"value": null}
 }},
{"data": {"values": [{}]},
 "mark": {"type": "text", "text": "d", "fontSize": 34, "fontWeight": "bold", "font": "Liberation Serif", "align": "center", "baseline": "alphabetic", "color": "#000000"},
 "encoding": {"x": {"datum": -7.18}, "y": {"datum": 2.89}}},
{"data": {"values": [{}]},
 "mark": {"type": "text", "text": "250nm STO", "fontSize": 19, "fontWeight": "bold", "font": "Liberation Serif", "align": "center", "baseline": "alphabetic", "color": "#000000"},
 "encoding": {"x": {"datum": 2.14}, "y": {"datum": 3.19}}}
]
}
],
"bounds": "flush", "center": true, "spacing": 98,
"resolve": {"scale": {"color": "independent"}, "legend": {"color": "independent"}}
}
]
}
